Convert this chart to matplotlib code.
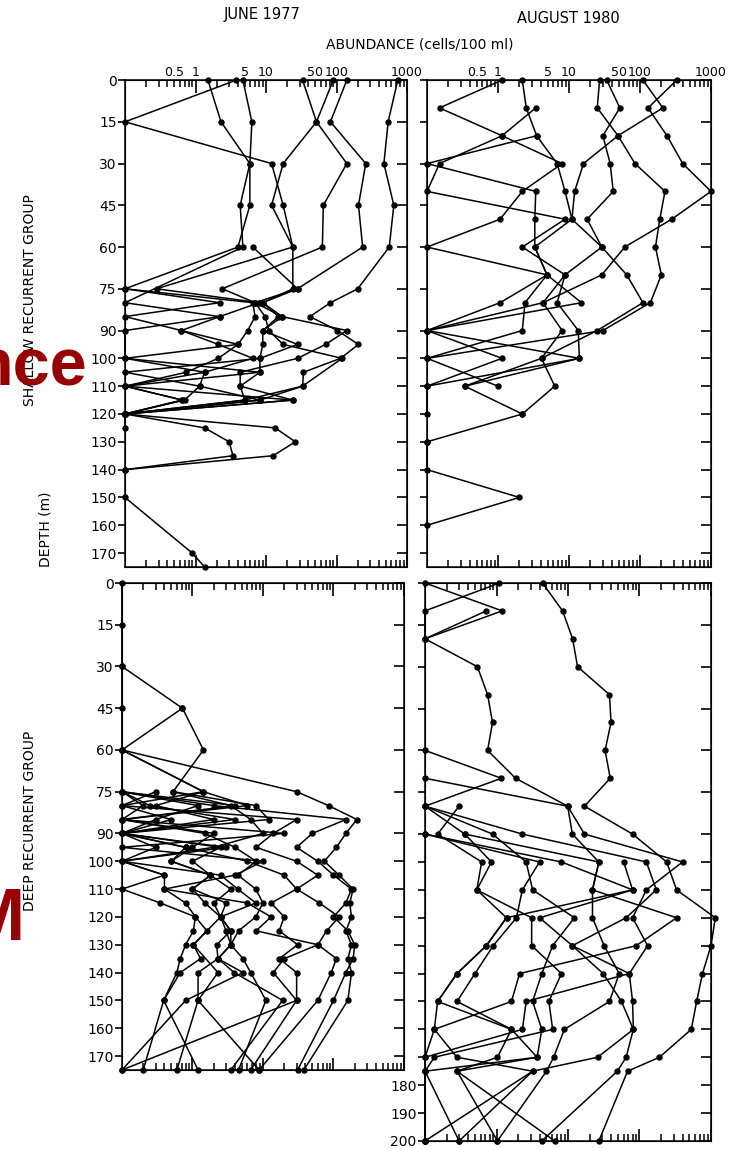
import numpy as np
import matplotlib
matplotlib.use("Agg")
import matplotlib.pyplot as plt
from matplotlib.ticker import FixedLocator, FuncFormatter, NullFormatter

XMIN, XMAX = 0.1, 1000

# abundance profiles, (depths in m, cells/100 ml); 0 = none found
june_shallow = [
    ([0, 15, 30, 45, 60, 75, 80, 85, 90, 95, 100, 105, 110, 115, 120],
     [740, 540, 470, 650, 560, 200, 82, 42, 103, 205, 114, 34, 33, 8.2, 0]),
    ([0, 15, 30, 45, 60, 75, 80, 85, 90, 95, 100, 105, 110, 115, 120],
     [140, 82, 260, 205, 235, 28, 9, 17, 140, 70, 28, 4.3, 4.3, 24, 0]),
    ([0, 15, 30, 45, 60, 75, 80, 85, 90, 95, 100, 110, 115, 120],
     [90, 52, 140, 65, 63, 2.4, 7, 9.7, 11, 17.5, 120, 33, 5, 0]),
    ([0, 15, 30, 45, 60, 75, 80, 85, 90, 95, 100, 105, 110, 115, 120, 125, 130, 135, 140],
     [33, 52, 17.5, 12, 24, 24, 9, 15, 9, 9, 8.2, 8.2, 4.3, 5, 0, 13.5, 26, 12.6, 0]),
    ([0, 15, 30, 45, 60, 75, 80, 85, 90, 95, 100, 105, 110, 115, 120],
     [4.7, 6.3, 5.9, 5.9, 4.0, 0, 6.5, 7, 5.5, 4, 2.1, 0.74, 0, 0.65, 0]),
    ([0, 15, 30, 45, 60, 75, 80, 85, 90, 95, 100, 105, 110, 115, 120, 125, 130, 135, 140],
     [3.8, 0, 12, 17.5, 24, 0.28, 8, 2.2, 0.63, 2.1, 6.5, 1.35, 1.14, 0.7, 0, 1.35, 3.0, 3.4, 0]),
    ([0, 15, 30, 45, 60, 80, 85, 90, 100, 105, 110, 115, 120],
     [1.5, 2.3, 5.9, 4.3, 4.7, 0, 2.2, 0, 0, 1.35, 0, 0.65, 0]),
    ([75, 80, 85, 90, 95, 100, 105, 110, 115, 120, 125],
     [0, 2.2, 0, 0.63, 4, 0, 8.2, 0, 24, 0, 0]),
    ([60, 75, 80, 85, 90, 95, 100, 105, 110, 115, 120],
     [6.5, 28, 7, 17, 9, 28, 8.2, 0, 1.14, 8.2, 0]),
    ([150, 170, 175], [0, 0.9, 1.35]),
]

aug_shallow = [
    ([0, 10, 20, 30, 40, 50, 60, 70, 80, 90],
     [330, 130, 240, 400, 1000, 280, 61, 29, 4.3, 0]),
    ([0, 10, 20, 30, 40, 50, 60, 70, 80, 90, 100],
     [110, 210, 49, 85, 225, 190, 165, 200, 140, 30, 0]),
    ([0, 10, 20, 30, 40, 50, 60, 70, 80, 90, 100, 110, 120, 130],
     [34, 52, 30, 38, 42, 18, 29, 65, 110, 25, 4.1, 6.3, 2.2, 0]),
    ([0, 10, 20, 30, 40, 50, 60, 70, 80, 90, 100, 110],
     [27, 25, 49, 16, 12, 11, 29, 8.8, 6.8, 13.5, 14, 0.34]),
    ([0, 10, 20, 30, 40, 50, 60, 70, 80, 90, 100, 110, 120],
     [1.14, 0.15, 1.14, 8, 2.2, 1.07, 0, 4.9, 1.07, 0, 1.14, 0, 0]),
    ([0, 10, 20, 30, 40, 50, 60, 70, 80, 90, 100, 110],
     [2.2, 2.5, 3.5, 0, 3.4, 3.3, 3.3, 4.9, 2.4, 2.2, 0, 1.0]),
    ([10, 20, 30, 40, 50, 60, 70, 80, 90, 100, 110, 120],
     [3.4, 1.14, 0.15, 0, 8.8, 2.2, 8.8, 4.3, 8, 4.1, 0.34, 2.2]),
    ([20, 30, 40, 50, 60, 70, 80, 90, 100, 110],
     [3.5, 6.8, 8.8, 11, 3.3, 4.9, 15, 0, 14, 0]),
    ([130, 140, 150, 160], [0, 0, 2.0, 0]),
]

deep_grid = [75, 80, 85, 90, 95, 100, 105, 110, 115, 120, 125, 130, 135, 140, 150, 175]

june_deep = [
    ([0, 15, 30, 45, 60] + deep_grid,
     [0, 0, 0, 0, 0, 0, 0.25, 4, 0, 3, 0, 0.4, 0, 0.35, 1.1, 1.6, 1.03, 1.3, 0.67, 0.39, 0.2]),
    ([30, 45, 60, 75, 80, 85, 90, 95, 100, 105, 110, 115, 120, 130, 140, 150, 175],
     [0, 0.72, 1.43, 0.53, 3.5, 6.7, 10, 2, 0, 2.5, 4.4, 7.9, 2.5, 1.03, 2.3, 1.2, 0.6]),
    ([45, 60] + deep_grid,
     [0.72, 0, 1.43, 0.3, 2, 0, 0.8, 0.5, 1.8, 1, 3, 2.5, 3.5, 3.5, 2.3, 3.9, 19, 3.5]),
    ([60] + deep_grid,
     [0, 30, 85, 215, 150, 110, 74, 120, 190, 170, 180, 150, 180, 160, 180, 160, 38]),
    (deep_grid, [0, 2, 150, 50, 30, 60, 100, 180, 150, 100, 160, 200, 190, 150, 100, 31]),
    (deep_grid, [0.3, 0, 30, 14, 8, 30, 60, 30, 63, 120, 80, 60, 110, 93, 60, 8.8]),
    (deep_grid, [0.53, 8, 12, 0, 0.8, 6, 20, 30, 13, 20, 17, 31, 17, 30, 30, 6.7]),
    (deep_grid, [0, 4, 0, 1.5, 4, 8, 4.4, 7.9, 10, 7.9, 4.5, 3.5, 5.2, 6.7, 11, 4.5]),
    (deep_grid, [0, 0.2, 0, 2, 1, 0.5, 1.8, 1, 1.5, 2.5, 3, 3.5, 2.3, 5.2, 0.8, 0]),
    (deep_grid, [1.43, 0, 0.5, 0, 0.3, 0, 0.4, 0.4, 0.8, 1.1, 1.03, 0.8, 0.67, 0.6, 0.39, 1.2]),
    (deep_grid, [0, 1.2, 0.3, 0, 2.5, 1, 1.8, 3.5, 2, 2.5, 3.5, 2.2, 2.3, 1.2, 1.2, 8.8]),
    ([60] + deep_grid,
     [0, 1.43, 6, 0, 20, 0, 10, 4, 0.4, 6, 13, 8, 60, 20, 14, 30, 0]),
]

aug_deep = [
    ([0, 10, 20, 30, 40, 50, 60, 70, 80, 90, 100, 110, 120, 130, 140, 150, 160, 170, 175, 200],
     [4.4, 8.4, 11.6, 13.6, 38, 40, 33, 39, 17, 80, 240, 330, 1150, 1000, 760, 630, 530, 190, 68, 27]),
    ([0, 10, 20, 30, 40, 50, 60, 70, 80, 90, 100, 110, 120, 130, 140, 150, 160, 170, 175, 200],
     [0, 1.2, 0, 0.54, 0.75, 0.88, 0.75, 1.85, 9.9, 17, 400, 125, 80, 130, 72, 80, 82, 65, 49, 4.3]),
    ([0, 10, 20], [1.1, 0, 0]),
    ([10, 20], [0.72, 0]),
    ([60, 70, 80, 90, 100, 110, 120, 130, 140, 150, 160, 170, 175, 200],
     [0, 1.17, 0, 0.36, 0.85, 0.53, 1.38, 0.72, 0.28, 0.15, 0.135, 0, 0, 0]),
    ([70, 80, 90, 100, 110, 120, 130, 140, 150, 160, 170, 175, 200],
     [0, 9.9, 11.5, 27, 22, 22, 32, 52, 38, 8.9, 6.3, 5, 1.03]),
    ([80, 90, 100, 110, 120, 130, 140, 150, 160, 170, 175, 200],
     [0, 2.3, 125, 172, 65, 11.5, 31, 56, 82, 26, 3.2, 0.3]),
    ([80, 90, 100, 110, 120, 130, 140, 150, 160, 170, 175, 200],
     [0, 0.88, 2.6, 3.2, 12.3, 6.1, 4.3, 3.2, 4.3, 3.7, 0.28, 6.5]),
    ([80, 90, 100, 110, 120, 130, 140, 150, 160, 170, 175, 200],
     [0.3, 0.15, 0.62, 0.53, 3.1, 3.1, 8.1, 5.4, 6.1, 0.135, 0, 0]),
    ([90, 100, 110, 120, 130, 140, 150, 160, 170, 175, 200],
     [0, 4, 2.3, 1.9, 0.9, 0.5, 0.28, 1.62, 1.03, 0.28, 1.03]),
    ([90, 100, 110, 120, 130, 140, 150, 160, 170, 175, 200],
     [0, 8.1, 80, 4, 11.5, 72, 2.6, 2.3, 0, 0, 0.3]),
    ([90, 100, 110, 120, 130, 140, 150, 160, 170, 175, 200],
     [0.36, 27, 22, 330, 90, 2.1, 1.62, 0.135, 0.28, 3.2, 0]),
    ([100, 110, 120, 130, 140, 150, 160, 170, 175, 200],
     [60, 80, 1.38, 0.72, 0.28, 0.15, 1.62, 3.7, 0, 0]),
]

x_label_map = {0.5: "0.5", 1: "1", 5: "5", 10: "10", 50: "50", 100: "100", 1000: "1000"}
x_major = [1, 10, 100, 1000]
x_minor = [k * 10.0 ** e for e in range(-1, 3) for k in range(2, 10)]
depth_ticks = [0, 15, 30, 45, 60, 75, 90, 100, 110, 120, 130, 140, 150, 160, 170]
deep_extra_ticks = [180, 190, 200]

plt.rcParams["font.family"] = ["DejaVu Sans"]


def xlabel_fmt(x, pos):
    for k, s in x_label_map.items():
        if abs(x - k) / k < 1e-6:
            return s
    return ""


def style_axes(ax, ymax, yticks, ylabels, top_labels):
    ax.set_xscale("log")
    ax.set_xlim(XMIN, XMAX)
    ax.set_ylim(ymax, 0)
    ax.xaxis.set_major_locator(FixedLocator(x_major))
    ax.xaxis.set_minor_locator(FixedLocator(x_minor))
    if top_labels:
        ax.xaxis.set_major_formatter(FuncFormatter(xlabel_fmt))
        ax.xaxis.set_minor_formatter(FuncFormatter(xlabel_fmt))
    else:
        ax.xaxis.set_major_formatter(NullFormatter())
        ax.xaxis.set_minor_formatter(NullFormatter())
    ax.xaxis.set_ticks_position("both")
    ax.xaxis.set_tick_params(which="major", direction="in", length=9, width=1.2,
                             labeltop=top_labels, labelbottom=False, labelsize=9, pad=1)
    ax.xaxis.set_tick_params(which="minor", direction="in", length=5, width=1.1,
                             labeltop=top_labels, labelbottom=False, labelsize=9, pad=1)
    ax.set_yticks(yticks)
    ax.set_yticklabels(ylabels)
    ax.tick_params(axis="y", direction="out", left=True, right=False, length=5,
                   width=1.2, labelsize=10, pad=1)
    # inward ticks on the right edge
    twin = ax.twinx()
    twin.set_ylim(ymax, 0)
    twin.set_yticks(yticks)
    twin.tick_params(axis="y", direction="in", length=7, width=1.2, labelright=False)
    for sp in ax.spines.values():
        sp.set_linewidth(1.1)
    return twin


def draw_profiles(ax, profiles):
    for depths, vals in profiles:
        v = np.asarray(vals, dtype=float)
        v = np.where(v > 0, v, XMIN)
        ax.plot(v, depths, "-o", color="black", lw=1.1, ms=3.6, clip_on=False, zorder=3)


fig = plt.figure(figsize=(7.38, 11.49), dpi=100)
ax_tl = fig.add_axes([0.1694, 0.5065, 0.3821, 0.4238])
ax_tr = fig.add_axes([0.5786, 0.5065, 0.3848, 0.4238])
ax_bl = fig.add_axes([0.1653, 0.0688, 0.3821, 0.4238])
ax_br = fig.add_axes([0.5759, 0.0070, 0.3875, 0.4856])

draw_profiles(ax_tl, june_shallow)
draw_profiles(ax_tr, aug_shallow)
draw_profiles(ax_bl, june_deep)
draw_profiles(ax_br, aug_deep)

style_axes(ax_tl, 175, depth_ticks, [str(t) for t in depth_ticks], True)
style_axes(ax_tr, 175, depth_ticks, ["" for t in depth_ticks], True)
style_axes(ax_bl, 175, depth_ticks, [str(t) for t in depth_ticks], False)
br_ticks = depth_ticks + deep_extra_ticks
style_axes(ax_br, 200, br_ticks, [str(t) if t >= 180 else "" for t in br_ticks], False)

fig.text(0.355, 0.987, "JUNE 1977", ha="center", va="center", fontsize=10.5)
fig.text(0.770, 0.984, "AUGUST 1980", ha="center", va="center", fontsize=10.5)
fig.text(0.569, 0.961, "ABUNDANCE (cells/100 ml)", ha="center", va="center", fontsize=10)
fig.text(0.061, 0.539, "DEPTH (m)", rotation=90, ha="center", va="center", fontsize=10)
fig.text(0.041, 0.739, "SHALLOW RECURRENT GROUP", rotation=90, ha="center", va="center", fontsize=10)
fig.text(0.041, 0.286, "DEEP RECURRENT GROUP", rotation=90, ha="center", va="center", fontsize=10)

# red slide text overlapping the left margin
fig.text(0.118, 1 - 368 / 1149, "nce", ha="right", va="center", fontsize=48,
         fontweight="bold", color="#960000", family=["Liberation Sans", "DejaVu Sans"])
fig.text(0.034, 1 - 921 / 1149, "M", ha="right", va="center", fontsize=54,
         fontweight="bold", color="#960000", family=["Liberation Sans", "DejaVu Sans"])

fig.savefig("out.png", dpi=100)
